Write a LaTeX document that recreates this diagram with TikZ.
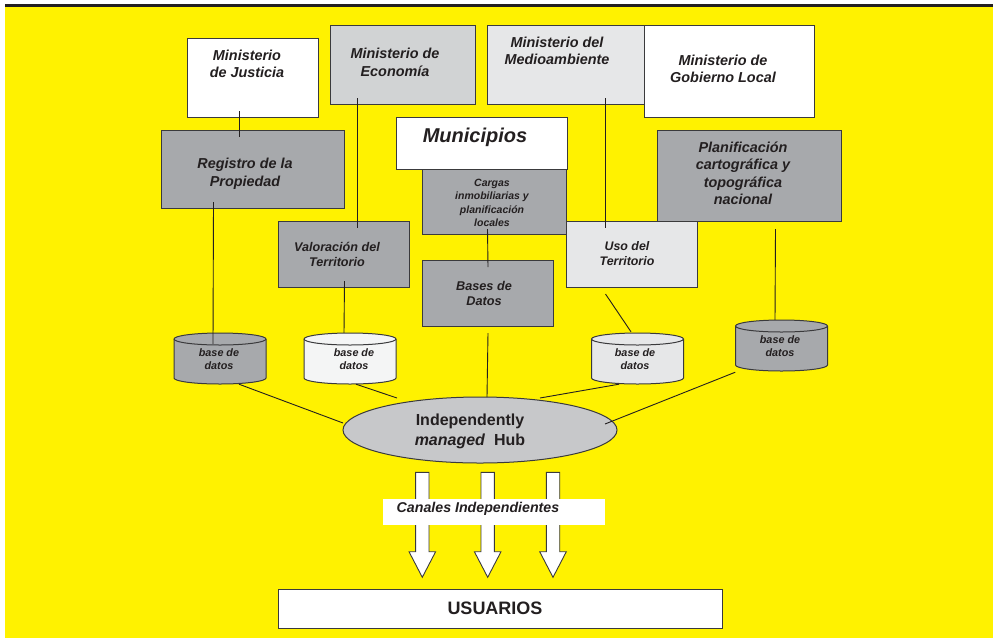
\documentclass[tikz,border=0pt]{standalone}
\usepackage{fontspec}
\setmainfont{Liberation Sans}
\usetikzlibrary{calc,shapes.geometric}
\definecolor{bgyellow}{HTML}{FFF200}
\definecolor{ink}{HTML}{231F20}
\definecolor{edge}{HTML}{3A3A3C}
\definecolor{gmid}{HTML}{A7A9AC}
\definecolor{glight}{HTML}{D1D3D4}
\definecolor{gpale}{HTML}{E6E7E8}
\definecolor{gwhite}{HTML}{F4F5F5}
\definecolor{ghub}{HTML}{C7C8CA}
\newcommand{\fs}[2]{\fontsize{#1}{#2}\selectfont}
\tikzset{
  boxnode/.style={draw=edge, line width=1pt, rectangle, inner sep=0pt, anchor=north west},
  lbl/.style={text=ink, align=center, inner sep=0pt, font=\bfseries\itshape\fs{14.4}{17.5}},
  conn/.style={draw=ink, line width=0.9pt},
  cylarea/.style={rectangle, inner sep=0pt, minimum width=92pt, minimum height=51pt},
  blockarrow/.style={fill=white, draw=edge, line width=0.9pt, line join=miter}
}
\newcommand{\dbcyl}[5]{% name, cx, top-center y, bottom-center y, fill
  \filldraw[fill=#5, draw=edge, line width=1pt]
    (#2-46,#3) -- (#2-46,#4) arc[start angle=180, end angle=0, x radius=46, y radius=6]
    -- (#2+46,#3) arc[start angle=0, end angle=-180, x radius=46, y radius=6] -- cycle;
  \draw[edge, line width=1pt] (#2-46,#3) arc[start angle=180, end angle=0, x radius=46, y radius=6];
  \node[cylarea] (#1) at (#2,{(#3+#4)/2}) {};
}
\begin{document}
\begin{tikzpicture}[x=1pt,y=-1pt]
\useasboundingbox (0,0) rectangle (993,638);
\fill[white] (0,0) rectangle (993,638);
\fill[bgyellow] (5,7) rectangle (993,638);
\fill[ink] (5,4) rectangle (993,7);

% boxes
\node[boxnode, fill=white,  minimum width=131pt, minimum height=79pt] (jus) at (187,38) {};
\node[boxnode, fill=glight, minimum width=145pt, minimum height=79pt] (eco) at (330,25) {};
\node[boxnode, fill=gpale,  minimum width=157pt, minimum height=79pt] (med) at (487,25) {};
\node[boxnode, fill=white,  minimum width=170pt, minimum height=92pt] (gob) at (644,25) {};
\node[boxnode, fill=gmid,   minimum width=183pt, minimum height=78pt] (reg) at (161,130) {};
\node[boxnode, fill=gmid,   minimum width=184pt, minimum height=91pt] (pla) at (657,130) {};
\node[boxnode, fill=white,  minimum width=171pt, minimum height=52pt] (mun) at (396,117) {};
\node[boxnode, fill=gmid,   minimum width=144pt, minimum height=65pt] (car) at (422,169) {};
\node[boxnode, fill=gmid,   minimum width=131pt, minimum height=66pt] (val) at (278,221) {};
\node[boxnode, fill=gpale,  minimum width=131pt, minimum height=66pt] (uso) at (566,221) {};
\node[boxnode, fill=gmid,   minimum width=131pt, minimum height=66pt] (bas) at (422,260) {};

% labels
\node[lbl] (jus-t) at (247,64) {Ministerio\\de Justicia};
\node[lbl] (eco-t) at (395,62.5) {Ministerio de\\Economía};
\node[lbl] (med-t) at (557,51) {Ministerio del\\Medioambiente};
\node[lbl] (gob-t) at (723,69) {Ministerio de\\Gobierno Local};
\node[lbl] (reg-t) at (245,174) {Registro de la\\Propiedad};
\node[lbl] (pla-t) at (743,173.5) {Planificación\\cartográfica y\\topográfica\\nacional};
\node[lbl, font=\bfseries\itshape\fs{20}{24}] (mun-t) at (475,137) {Municipios};
\node[lbl, font=\bfseries\itshape\fs{10.5}{13.3}] (car-t) at (492,203) {Cargas\\inmobiliarias y\\planificación\\locales};
\node[lbl, font=\bfseries\itshape\fs{12.6}{15}] (val-t) at (337,254) {Valoración del\\Territorio};
\node[lbl, font=\bfseries\itshape\fs{12.4}{15}] (uso-t) at (627,254) {Uso del\\Territorio};
\node[lbl, font=\bfseries\itshape\fs{12.7}{15}] (bas-t) at (484,293.5) {Bases de\\Datos};

% databases
\dbcyl{db1}{220}{339}{378}{gmid}
\dbcyl{db2}{350}{339}{378}{gwhite}
\dbcyl{db3}{637.5}{339}{378}{gpale}
\dbcyl{db4}{781.5}{326}{365}{gmid}
\foreach \d/\x/\y in {db1/219/359.5, db2/354/359.5, db3/635/359.5, db4/780/346.5}{
  \node[lbl, font=\bfseries\itshape\fs{10.8}{13}] (\d-t) at (\x,\y) {base de\\datos};
}

% hub
\node[ellipse, draw=edge, line width=1pt, fill=ghub, inner sep=0pt, minimum width=274pt, minimum height=66pt] (hub) at (480,430) {};
\node[lbl, font=\bfseries\fs{16}{20}] (hub-t) at (470,431) {Independently\\\textit{managed}\ \ Hub};

% connectors
\draw[conn] ($(jus.south)+(-13.5,-7)$) -- ($(reg.north)+(-13.5,7)$);
\draw[conn] ($(eco.south)+(-45.5,-7)$) -- ($(val.north)+(13.5,7)$);
\draw[conn] ($(reg.south)+(-39.5,-7)$) -- ($(db1.north)+(-7,11)$);
\draw[conn] ($(val.south)+(0.5,-7)$) -- ($(db2.north)+(-6,0)$);
\draw[conn] ($(med.south)+(39.5,-7)$) -- ($(uso.north)+(-26.5,7)$);
\draw[conn] ($(uso.south)+(-26.5,6)$) -- ($(db3.north)+(-6.5,-1)$);
\draw[conn] ($(pla.south)+(26,7)$) -- ($(db4.north)+(-6.5,0)$);
\draw[conn] ($(car.south)+(-7,-6)$) -- ($(bas.north)+(0,7)$);
\draw[conn] ($(bas.south)+(0,6)$) -- ($(hub.center)+(7,-33)$);
\draw[conn] ($(db1.south)+(19,0)$) -- ($(hub.center)+(-137,-7)$);
\draw[conn] ($(db2.south)+(6,0)$) -- ($(hub.center)+(-83,-32)$);
\draw[conn] ($(db3.south)+(-18.5,0)$) -- ($(hub.center)+(60,-32)$);
\draw[conn] ($(db4.south west)+(0,1)$) -- ($(hub.center)+(125,-6)$);

% block arrows
\foreach \c in {422.3,487.7,553}{
  \draw[blockarrow] (\c-6.7,472.3) -- (\c+6.7,472.3) -- (\c+6.7,551.7) -- (\c+13.3,551.7)
    -- (\c,577.3) -- (\c-13.3,551.7) -- (\c-6.7,551.7) -- cycle;
}
\node[rectangle, fill=white, inner sep=0pt, minimum width=222.7pt, minimum height=26.4pt, anchor=north west] (can) at (382.3,498.3) {};
\node[lbl, anchor=west, font=\bfseries\itshape\fs{14.2}{17}] (can-t) at (396.5,509) {Canales Independientes};

% users
\node[draw=edge, line width=1pt, fill=white, rectangle, inner sep=0pt, minimum width=444pt, minimum height=39pt, text=ink, font=\bfseries\fs{18}{21}] (usu) at (500,608.5) {\hspace*{-10pt}USUARIOS};
\end{tikzpicture}
\end{document}
